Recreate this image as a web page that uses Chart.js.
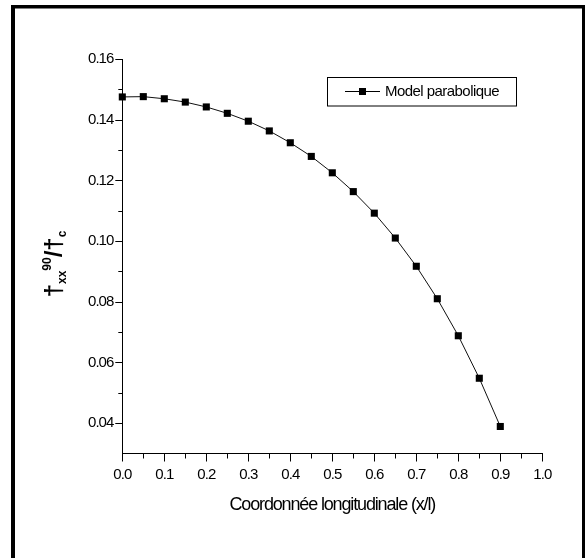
<!DOCTYPE html>
<html>
<head>
<meta charset="utf-8">
<script src="https://cdn.jsdelivr.net/npm/chart.js@4.4.0/dist/chart.umd.min.js"></script>
<style>
html,body{margin:0;padding:0;background:#fff;}
#wrap{width:585px;height:558px;position:relative;}
</style>
</head>
<body>
<div id="wrap"><canvas id="c" width="585" height="558"></canvas></div>
<script>
// ---- data ----
const xValues = [0, 0.05, 0.1, 0.15, 0.2, 0.25, 0.3, 0.35, 0.4, 0.45, 0.5, 0.55, 0.6, 0.65, 0.7, 0.75, 0.8, 0.85, 0.9];
const yValues = [0.1475, 0.1476, 0.1469, 0.1458, 0.1442, 0.1421, 0.1395, 0.1363, 0.1324, 0.1279, 0.1225, 0.1163, 0.1092, 0.1010, 0.0917, 0.0810, 0.0688, 0.0548, 0.0389];
const seriesName = 'Model parabolique';
const xTickLabels = ['0.0','0.1','0.2','0.3','0.4','0.5','0.6','0.7','0.8','0.9','1.0'];
const yTickLabels = ['0.04','0.06','0.08','0.10','0.12','0.14','0.16'];
const xTitle = 'Coordonnée longitudinale (x/l)';

const FONT = '"Liberation Sans", Arial, sans-serif';

function labelFor(list, v, digits) {
  const s = v.toFixed(digits);
  return list.includes(s) ? s : '';
}

const points = xValues.map((x, i) => ({x: x, y: yValues[i]}));

const decorPlugin = {
  id: 'decor',
  beforeDraw(chart) {
    const ctx = chart.ctx;
    ctx.letterSpacing = '-1px';
    ctx.save();
    ctx.fillStyle = '#fff';
    ctx.fillRect(0, 0, chart.width, chart.height);
    // outer frame
    ctx.fillStyle = '#000';
    ctx.fillRect(11, 5, 4, 560);
    ctx.fillRect(11, 5, 580, 3.5);
    ctx.fillRect(582, 5, 4, 560);
    ctx.restore();
  },
  afterDraw(chart) {
    const ctx = chart.ctx;
    const xs = chart.scales.x, ys = chart.scales.y;
    ctx.save();
    ctx.strokeStyle = '#000';
    ctx.lineWidth = 1;
    // y ticks
    ys.ticks.forEach(t => {
      const major = labelFor(yTickLabels, t.value, 2) !== '';
      if (t.value < 0.035) return;
      const py = Math.round(ys.getPixelForValue(t.value)) + 0.5;
      const len = major ? 7 : 4;
      ctx.beginPath();
      ctx.moveTo(xs.left, py);
      ctx.lineTo(xs.left - len, py);
      ctx.stroke();
    });
    // x ticks
    xs.ticks.forEach(t => {
      const major = labelFor(xTickLabels, t.value, 1) !== '' && Math.abs(t.value*10 - Math.round(t.value*10)) < 1e-6;
      const px = Math.round(xs.getPixelForValue(t.value)) + 0.5;
      const len = major ? 8 : 5;
      ctx.beginPath();
      ctx.moveTo(px, ys.bottom);
      ctx.lineTo(px, ys.bottom + len);
      ctx.stroke();
    });
    // x title
    ctx.fillStyle = '#000';
    ctx.font = '18px ' + FONT;
    ctx.letterSpacing = '-1.15px';
    ctx.textAlign = 'center';
    ctx.textBaseline = 'alphabetic';
    ctx.fillText(xTitle, (xs.left + xs.right) / 2, 510);

    // y title (rotated)
    ctx.letterSpacing = '0px';
    const big = 'bold 24px ' + FONT, small = 'bold 12px ' + FONT;
    const segs = [['†', big, 0], ['xx', small, 4], ['90', small, -11], ['/', big, 0], ['†', big, 0], ['c', small, 4]];
    let total = 0;
    segs.forEach(s => { ctx.font = s[1]; total += ctx.measureText(s[0]).width; });
    ctx.translate(62, 264 + total / 2);
    ctx.rotate(-Math.PI / 2);
    ctx.textAlign = 'left';
    let cx = 0;
    segs.forEach(s => { ctx.font = s[1]; ctx.fillText(s[0], cx, s[2]); cx += ctx.measureText(s[0]).width; });
    ctx.restore();

    // legend
    ctx.save();
    ctx.strokeStyle = '#000';
    ctx.lineWidth = 1;
    ctx.strokeRect(327.5, 77.5, 189, 28.5);
    const ly = 91.5;
    ctx.beginPath();
    ctx.moveTo(345, ly);
    ctx.lineTo(380, ly);
    ctx.stroke();
    ctx.fillStyle = '#000';
    ctx.fillRect(362.5 - 3.5, ly - 3.5, 7, 7);
    ctx.font = '15px ' + FONT;
    ctx.letterSpacing = '-0.55px';
    ctx.textAlign = 'left';
    ctx.textBaseline = 'middle';
    ctx.fillText(seriesName, 385, ly + 0.5);
    ctx.restore();
  }
};

new Chart(document.getElementById('c'), {
  type: 'line',
  data: {
    datasets: [{
      label: seriesName,
      data: points,
      borderColor: '#111',
      borderWidth: 1,
      backgroundColor: '#000',
      pointStyle: 'rect',
      pointRadius: 5,
      pointBorderWidth: 0,
      pointBackgroundColor: '#000',
      tension: 0,
      clip: false
    }]
  },
  options: {
    responsive: false,
    animation: false,
    devicePixelRatio: 1,
    layout: {padding: {left: 0, right: 42.7, top: 59, bottom: 0}},
    plugins: {legend: {display: false}, tooltip: {enabled: false}},
    scales: {
      x: {
        type: 'linear',
        min: 0, max: 1,
        afterFit(s) { s.height = 104.5; },
        grid: {display: false, drawTicks: false},
        border: {display: true, color: '#000', width: 1},
        ticks: {
          stepSize: 0.05,
          autoSkip: false,
          maxRotation: 0,
          padding: 12,
          color: '#000',
          font: {family: FONT, size: 15},
          callback: (v) => (Math.abs(v*10 - Math.round(v*10)) < 1e-6) ? labelFor(xTickLabels, v, 1) : ''
        }
      },
      y: {
        type: 'linear',
        min: 0.03, max: 0.16,
        afterFit(s) { s.width = 122.3; },
        grid: {display: false, drawTicks: false},
        border: {display: true, color: '#000', width: 1},
        ticks: {
          stepSize: 0.01,
          autoSkip: false,
          padding: 9,
          color: '#000',
          font: {family: FONT, size: 15},
          callback: (v) => labelFor(yTickLabels, v, 2)
        }
      }
    }
  },
  plugins: [decorPlugin]
});
</script>
</body>
</html>
